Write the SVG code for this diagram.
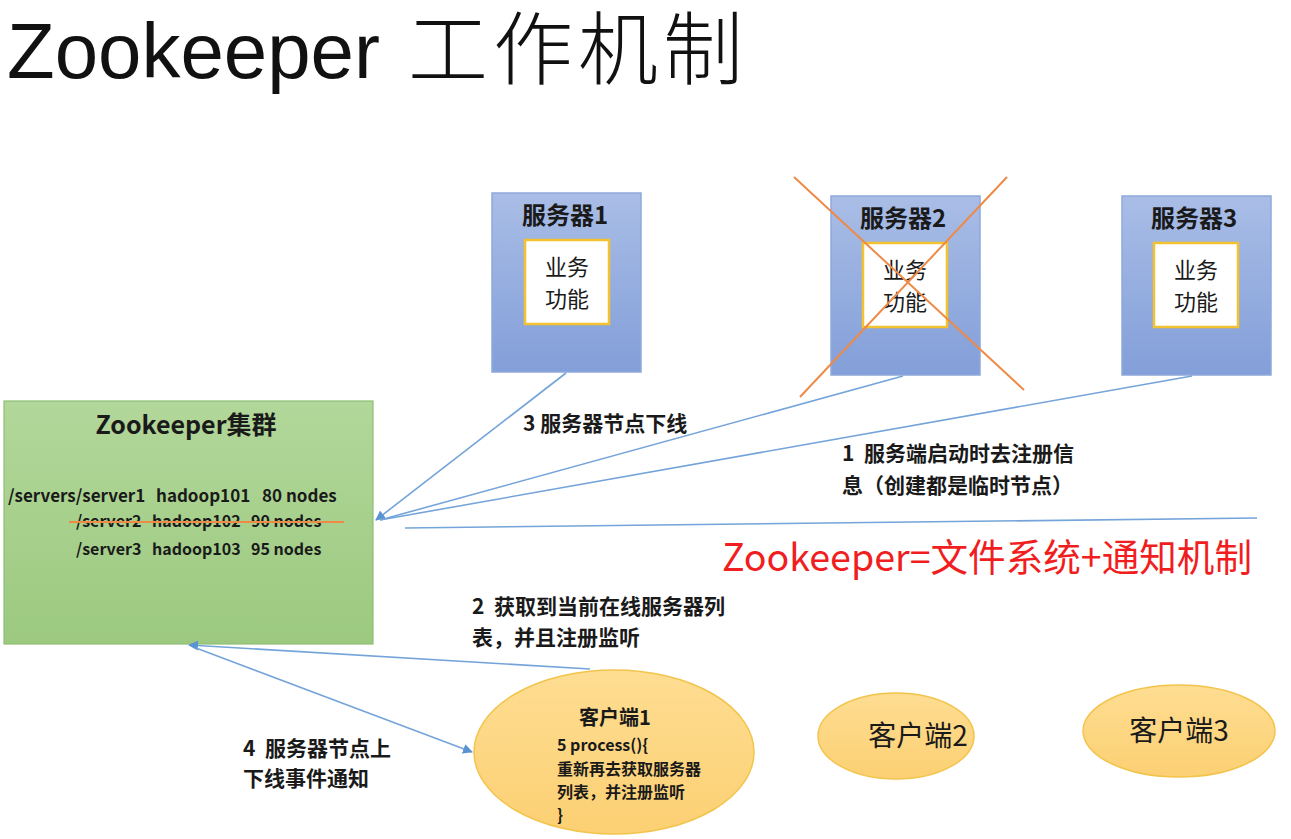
<svg xmlns="http://www.w3.org/2000/svg" width="1291" height="839" viewBox="0 0 1291 839">
<style>
  .t { font-family: "Noto Sans CJK SC", "Liberation Sans", sans-serif; fill: #1a1a1a; }
  .b { font-weight: bold; }
  .srv { stroke: #8fa9dc; stroke-width: 1.5; fill: url(#gBlue); }
  .inner { fill: #ffffff; stroke: #f2c230; stroke-width: 2.5; }
  .conn { stroke: #74a4d9; stroke-width: 1.6; fill: none; }
  .cross { stroke: #ee8a45; stroke-width: 2; }
  .cli { fill: url(#gOrange); stroke: #f3c44c; stroke-width: 1.5; }
</style>
<defs>
  <linearGradient id="gBlue" x1="0" y1="0" x2="0" y2="1">
    <stop offset="0" stop-color="#a9bde6"/>
    <stop offset="1" stop-color="#839fd9"/>
  </linearGradient>
  <linearGradient id="gGreen" x1="0" y1="0" x2="0" y2="1">
    <stop offset="0" stop-color="#b2d79a"/>
    <stop offset="1" stop-color="#9cc97f"/>
  </linearGradient>
  <linearGradient id="gOrange" x1="0" y1="0" x2="0" y2="1">
    <stop offset="0" stop-color="#fedd92"/>
    <stop offset="1" stop-color="#fcd073"/>
  </linearGradient>
  <marker id="arr" viewBox="0 0 10 10" refX="9" refY="5" markerWidth="10" markerHeight="10" markerUnits="userSpaceOnUse" orient="auto">
    <path d="M0,0 L10,5 L0,10 z" fill="#5a93d4"/>
  </marker>
</defs>

<text x="7" y="78" font-size="78" style="font-family: 'Liberation Sans', 'Noto Sans CJK SC', sans-serif; fill:#111">Zookeeper <tspan x="408" font-size="80" font-weight="300" letter-spacing="5">工作机制</tspan></text>

<g id="zk-cluster">
  <rect x="4" y="401" width="369" height="243" fill="url(#gGreen)" stroke="#8fbf73" stroke-width="1.2"/>
  <text class="t b" x="186" y="434" font-size="25" text-anchor="middle">Zookeeper集群</text>
  <text class="t b" font-size="17" y="502"><tspan x="8">/servers/server1</tspan><tspan x="156">hadoop101</tspan><tspan x="262">80 nodes</tspan></text>
  <text class="t b" font-size="16" y="527"><tspan x="76">/server2</tspan><tspan x="152">hadoop102</tspan><tspan x="251">90 nodes</tspan></text>
  <text class="t b" font-size="16" y="555"><tspan x="76">/server3</tspan><tspan x="152">hadoop103</tspan><tspan x="251">95 nodes</tspan></text>
  <line x1="69" y1="522" x2="344" y2="522" stroke="#ee8a45" stroke-width="2"/>
</g>

<g id="server1">
  <rect class="srv" x="492" y="193" width="149" height="179"/>
  <text class="t b" x="565" y="224" font-size="24" text-anchor="middle">服务器1</text>
  <rect class="inner" x="525" y="240" width="84" height="84"/>
  <text class="t" font-size="22" text-anchor="middle"><tspan x="567" y="275">业务</tspan><tspan x="567" y="307">功能</tspan></text>
</g>

<g id="server2">
  <rect class="srv" x="831" y="196" width="149" height="179"/>
  <text class="t b" x="903" y="227" font-size="24" text-anchor="middle">服务器2</text>
  <rect class="inner" x="863" y="243" width="84" height="84"/>
  <text class="t" font-size="22" text-anchor="middle"><tspan x="905" y="278">业务</tspan><tspan x="905" y="310">功能</tspan></text>
  <line class="cross" x1="794" y1="177" x2="1024" y2="390"/>
  <line class="cross" x1="1007" y1="177" x2="800" y2="397"/>
</g>

<g id="server3">
  <rect class="srv" x="1122" y="196" width="149" height="179"/>
  <text class="t b" x="1194" y="227" font-size="24" text-anchor="middle">服务器3</text>
  <rect class="inner" x="1154" y="243" width="84" height="84"/>
  <text class="t" font-size="22" text-anchor="middle"><tspan x="1196" y="278">业务</tspan><tspan x="1196" y="310">功能</tspan></text>
</g>

<g id="client1">
  <ellipse class="cli" cx="614" cy="752" rx="140" ry="82"/>
  <text class="t b" x="615" y="725" font-size="20" text-anchor="middle">客户端1</text>
  <text class="t b" font-size="16"><tspan x="557" y="751">5 process(){</tspan><tspan x="557" y="775">重新再去获取服务器</tspan><tspan x="557" y="798">列表，并注册监听</tspan><tspan x="557" y="821">}</tspan></text>
</g>

<g id="client2">
  <ellipse class="cli" cx="896" cy="736" rx="78" ry="43"/>
  <text class="t" x="918" y="746" font-size="28" text-anchor="middle">客户端2</text>
</g>

<g id="client3">
  <ellipse class="cli" cx="1179" cy="731" rx="96" ry="46"/>
  <text class="t" x="1179" y="741" font-size="28" text-anchor="middle">客户端3</text>
</g>

<g id="connectors">
  <line class="conn" x1="566" y1="373" x2="376" y2="520" marker-end="url(#arr)"/>
  <line class="conn" x1="903" y1="376" x2="380" y2="520"/>
  <line class="conn" x1="1192" y1="376" x2="380" y2="520"/>
  <line class="conn" x1="405" y1="528" x2="1257" y2="518"/>
  <line class="conn" x1="590" y1="669" x2="189" y2="645" marker-end="url(#arr)"/>
  <line class="conn" x1="196" y1="648" x2="472" y2="752" marker-end="url(#arr)"/>
</g>

<g id="labels">
  <text class="t b" x="523" y="431" font-size="21">3 服务器节点下线</text>
  <text class="t b" font-size="21" xml:space="preserve"><tspan x="842" y="461">1  服务端启动时去注册信</tspan><tspan x="842" y="493">息（创建都是临时节点）</tspan></text>
  <text class="t" x="722" y="571" font-size="37.6" style="fill:#f01e1e">Zookeeper=文件系统+通知机制</text>
  <text class="t b" font-size="21" xml:space="preserve"><tspan x="472" y="614">2  获取到当前在线服务器列</tspan><tspan x="472" y="645">表，并且注册监听</tspan></text>
  <text class="t b" font-size="21" xml:space="preserve"><tspan x="243" y="756">4  服务器节点上</tspan><tspan x="243" y="786">下线事件通知</tspan></text>
</g>
</svg>
